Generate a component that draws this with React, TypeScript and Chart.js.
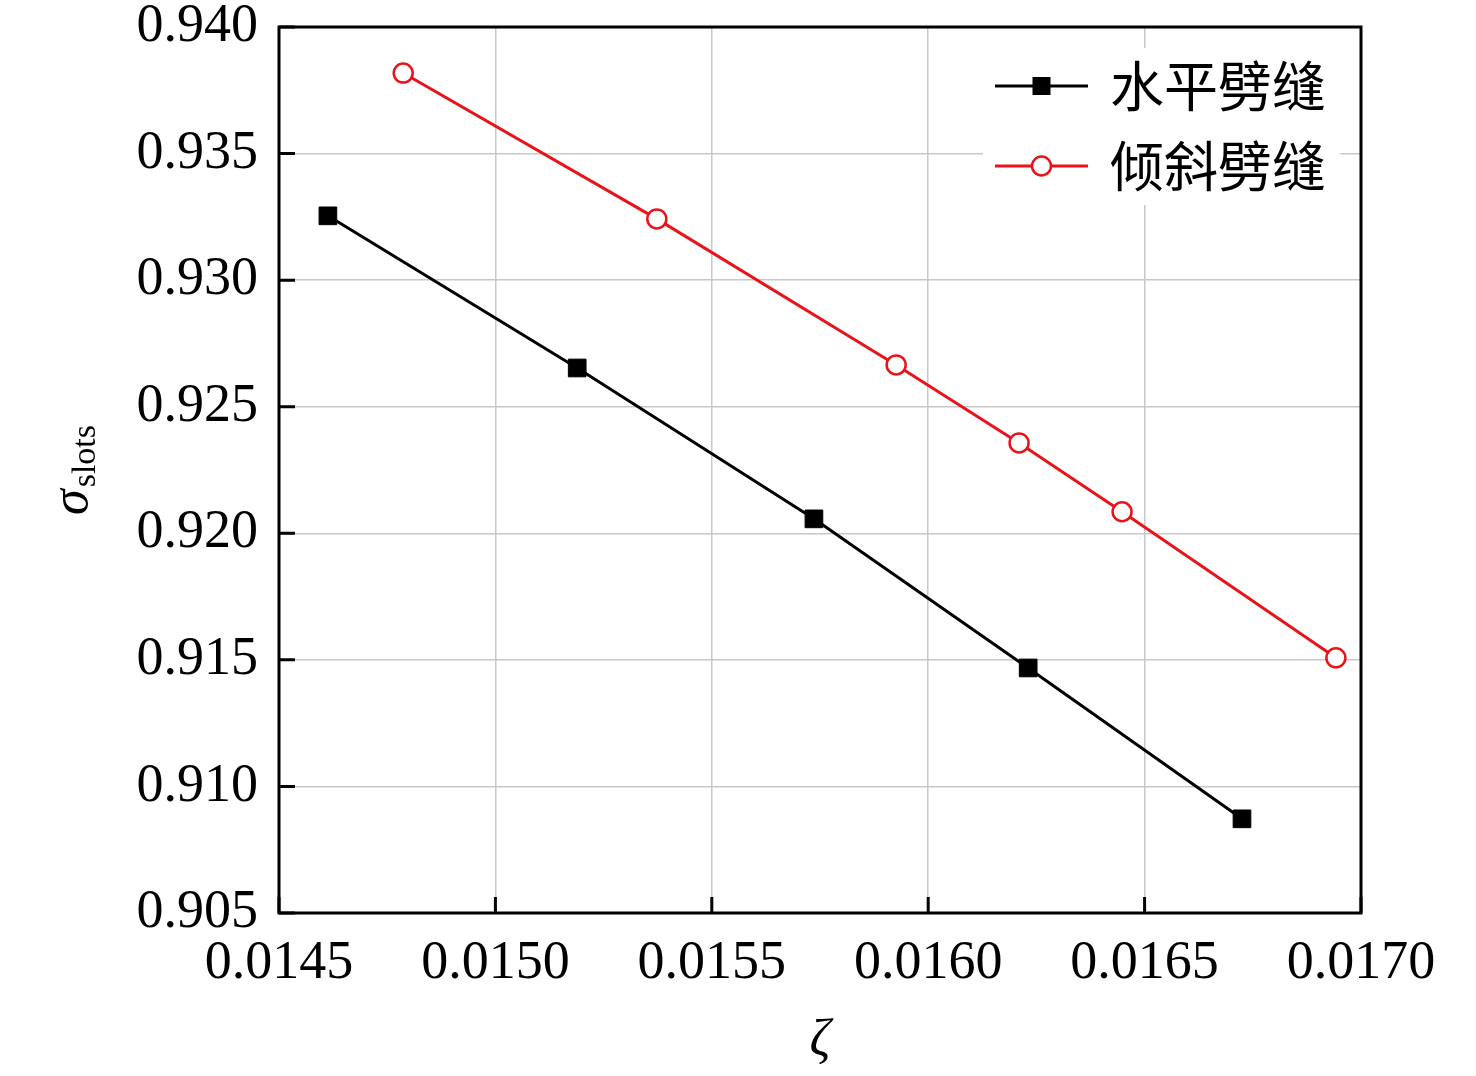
import { useEffect, useRef } from 'react';
import { Chart, registerables, Plugin } from 'chart.js';

Chart.register(...registerables);

// series
const seriesNames = ['水平劈缝', '倾斜劈缝'];
const flatZeta = [0.014613, 0.015189, 0.015736, 0.016231, 0.016725];
const flatSigma = [0.93254, 0.92653, 0.92057, 0.91468, 0.90872];
const tiltZeta = [0.014787, 0.015373, 0.015926, 0.01621, 0.016448, 0.016942];
const tiltSigma = [0.93818, 0.93242, 0.92665, 0.92357, 0.92085, 0.91508];

const xMin = 0.0145;
const xMax = 0.017;
const xStep = 0.0005;
const yMin = 0.905;
const yMax = 0.94;
const yStep = 0.005;

const SERIF = '"Liberation Serif", "Times New Roman", serif';
const CJK = '"Noto Sans CJK SC", "Noto Sans", sans-serif';
const RED = '#e8141a';

const framePlugin: Plugin = {
	id: 'frame',
	afterDraw(chart) {
		const { ctx, chartArea: a } = chart;
		const xs = chart.scales.x;
		const ys = chart.scales.y;
		ctx.save();

		// legend box
		ctx.fillStyle = '#fff';
		ctx.fillRect(a.right - 378, a.top + 21, 357, 157);
		chart.data.datasets.forEach((ds: any, i) => {
			const cy = a.top + 59 + i * 80;
			const x0 = a.right - 366;
			const x1 = a.right - 273;
			const mx = (x0 + x1) / 2;
			ctx.strokeStyle = ds.borderColor;
			ctx.lineWidth = 3;
			ctx.beginPath();
			ctx.moveTo(x0, cy);
			ctx.lineTo(x1, cy);
			ctx.stroke();
			if (ds.pointStyle === 'rect') {
				ctx.fillStyle = ds.pointBackgroundColor;
				ctx.fillRect(mx - 9, cy - 9, 18, 18);
			} else {
				ctx.fillStyle = ds.pointBackgroundColor;
				ctx.beginPath();
				ctx.arc(mx, cy, 9.5, 0, Math.PI * 2);
				ctx.fill();
				ctx.strokeStyle = ds.pointBorderColor;
				ctx.lineWidth = ds.pointBorderWidth;
				ctx.stroke();
			}
			ctx.fillStyle = '#000';
			ctx.font = `54px ${CJK}`;
			ctx.textAlign = 'left';
			ctx.textBaseline = 'middle';
			ctx.fillText(ds.label, a.right - 251, cy);
		});

		// inward tick marks
		ctx.strokeStyle = '#000';
		ctx.lineWidth = 3;
		ctx.beginPath();
		xs.ticks.forEach((t) => {
			const px = xs.getPixelForValue(t.value);
			ctx.moveTo(px, a.bottom);
			ctx.lineTo(px, a.bottom - 16);
		});
		ys.ticks.forEach((t) => {
			const py = ys.getPixelForValue(t.value);
			ctx.moveTo(a.left, py);
			ctx.lineTo(a.left + 16, py);
		});
		ctx.stroke();
		ctx.strokeRect(a.left, a.top, a.right - a.left, a.bottom - a.top);

		// axis titles
		ctx.fillStyle = '#000';
		ctx.textBaseline = 'alphabetic';
		ctx.textAlign = 'center';
		ctx.font = `italic 52px ${SERIF}`;
		ctx.fillText('ζ', (a.left + a.right) / 2, a.bottom + 142);

		ctx.translate(a.left - 192, (a.top + a.bottom) / 2);
		ctx.rotate(-Math.PI / 2);
		ctx.textAlign = 'left';
		const sigFont = `italic 52px ${SERIF}`;
		const subFont = `34px ${SERIF}`;
		ctx.font = sigFont;
		const w1 = ctx.measureText('σ').width;
		ctx.font = subFont;
		const w2 = ctx.measureText('slots').width;
		const start = -(w1 + w2 + 2) / 2;
		ctx.font = sigFont;
		ctx.fillText('σ', start, 0);
		ctx.font = subFont;
		ctx.fillText('slots', start + w1 + 2, 8);
		ctx.restore();
	},
};

export default function App() {
	const canvasRef = useRef<HTMLCanvasElement>(null);

	useEffect(() => {
		if (!canvasRef.current) return;
		const chart = new Chart(canvasRef.current, {
			type: 'line',
			data: {
				datasets: [
					{
						label: seriesNames[0],
						data: flatZeta.map((x, i) => ({ x, y: flatSigma[i] })),
						borderColor: '#000',
						borderWidth: 3,
						pointStyle: 'rect',
						pointRadius: 12.5,
						pointBackgroundColor: '#000',
						pointBorderColor: '#000',
						pointBorderWidth: 1,
					},
					{
						label: seriesNames[1],
						data: tiltZeta.map((x, i) => ({ x, y: tiltSigma[i] })),
						borderColor: RED,
						borderWidth: 3,
						pointStyle: 'circle',
						pointRadius: 9.5,
						pointBackgroundColor: '#fff',
						pointBorderColor: RED,
						pointBorderWidth: 2.5,
					},
				],
			},
			options: {
				animation: false,
				responsive: true,
				maintainAspectRatio: false,
				layout: { padding: { top: 27, right: 115, left: 0, bottom: 0 } },
				plugins: { legend: { display: false }, tooltip: { enabled: false } },
				scales: {
					x: {
						type: 'linear',
						min: xMin,
						max: xMax,
						afterFit: (s: any) => {
							s.height = 163;
							s.paddingLeft = 0;
							s.paddingRight = 0;
						},
						ticks: {
							stepSize: xStep,
							padding: 24,
							color: '#000',
							font: { family: SERIF, size: 54, lineHeight: 1 },
							callback: (v) => Number(v).toFixed(4),
						},
						grid: { color: '#c8c8c8', lineWidth: 1.5, drawTicks: false },
						border: { display: false },
					},
					y: {
						type: 'linear',
						min: yMin,
						max: yMax,
						afterFit: (s: any) => {
							s.width = 279;
							s.paddingTop = 0;
							s.paddingBottom = 0;
						},
						ticks: {
							stepSize: yStep,
							padding: 21,
							color: '#000',
							font: { family: SERIF, size: 54, lineHeight: 1 },
							callback: (v) => Number(v).toFixed(3),
						},
						grid: { color: '#c8c8c8', lineWidth: 1.5, drawTicks: false },
						border: { display: false },
					},
				},
			},
			plugins: [framePlugin],
		});
		return () => chart.destroy();
	}, []);

	return (
		<div style={{ position: 'absolute', left: 0, top: 0, width: 1476, height: 1076, background: '#fff' }}>
			<canvas ref={canvasRef}></canvas>
		</div>
	);
}
